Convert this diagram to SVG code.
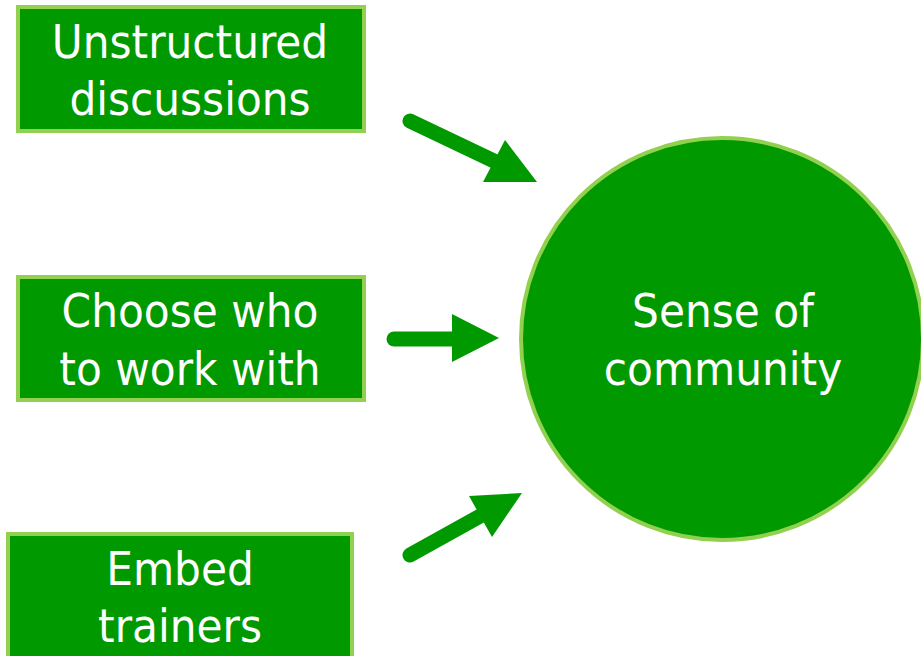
<svg xmlns="http://www.w3.org/2000/svg" width="921" height="656" viewBox="0 0 921 656">
<style>
.box{fill:#009900;stroke:#92D050;stroke-width:4}
.lbl{fill:#ffffff;font-family:"DejaVu Sans Condensed","DejaVu Sans","Open Sans",sans-serif;font-stretch:condensed;font-size:47px;text-anchor:middle}
.shaft{stroke:#009900;stroke-width:15;stroke-linecap:round;fill:none}
.head{fill:#009900}
</style>
<rect width="921" height="656" fill="#ffffff"/>
<g id="node-unstructured">
<rect class="box" x="18" y="7" width="346" height="124"/>
<text class="lbl" x="190" y="58">Unstructured</text>
<text class="lbl" x="190" y="115">discussions</text>
</g>
<g id="node-choose">
<rect class="box" x="18" y="277" width="346" height="123"/>
<text class="lbl" x="190" y="327">Choose who</text>
<text class="lbl" x="190" y="385">to work with</text>
</g>
<g id="node-embed">
<rect class="box" x="8" y="534" width="344" height="140"/>
<text class="lbl" x="180" y="585">Embed</text>
<text class="lbl" x="180" y="642">trainers</text>
</g>
<g id="node-community">
<circle class="box" cx="722" cy="339" r="201"/>
<text class="lbl" x="723" y="327">Sense of</text>
<text class="lbl" x="723" y="385">community</text>
</g>
<g id="connectors">
<line class="shaft" x1="410" y1="121" x2="494" y2="161"/>
<polygon class="head" points="505,140 537,182 483,182"/>
<line class="shaft" x1="394" y1="339" x2="454" y2="339"/>
<polygon class="head" points="452,314 499,338 452,362"/>
<line class="shaft" x1="410" y1="555" x2="482" y2="515"/>
<polygon class="head" points="469,496 522,493 492,537"/>
</g>
</svg>
